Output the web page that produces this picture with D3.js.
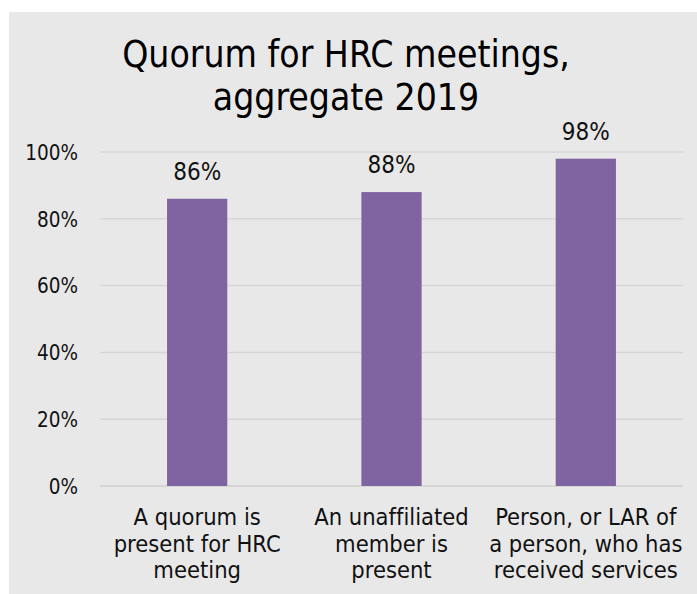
<!DOCTYPE html>
<html>
<head>
<meta charset="utf-8">
<script src="https://cdn.jsdelivr.net/npm/d3@7"></script>
<style>
  html, body { margin: 0; padding: 0; background: #ffffff; }
  svg { display: block; }
  text { font-family: "DejaVu Sans Condensed", "DejaVu Sans", sans-serif; fill: #111; font-variant-ligatures: none; }
</style>
</head>
<body>
<svg id="chart" width="697" height="594"></svg>
<script>
// Chart data
const titleLines = ["Quorum for HRC meetings,", "aggregate 2019"];
const categories = [
  ["A quorum is", "present for HRC", "meeting"],
  ["An unaffiliated", "member is", "present"],
  ["Person, or LAR of", "a person, who has", "received services"]
];
const values = [0.86, 0.88, 0.98];
const valueLabels = ["86%", "88%", "98%"];
const yTicks = [0, 0.2, 0.4, 0.6, 0.8, 1.0];
const yTickLabels = ["0%", "20%", "40%", "60%", "80%", "100%"];

const svg = d3.select("#chart");
const W = 697, H = 594;
const plot = { left: 100, right: 683, top: 152, bottom: 486 };

// Panel background
svg.append("rect")
  .attr("x", 9).attr("y", 12)
  .attr("width", W - 9).attr("height", H - 12)
  .attr("fill", "#e8e8e8");

// Title
svg.append("g").selectAll("text")
  .data(titleLines)
  .join("text")
  .attr("x", 346)
  .attr("y", (d, i) => 67 + i * 43)
  .attr("text-anchor", "middle")
  .attr("font-size", 37)
  .style("fill", "#000")
  .text(d => d);

const x = d3.scaleBand()
  .domain(d3.range(categories.length))
  .range([plot.left, plot.right])
  .paddingInner(0.69)
  .paddingOuter(0.345);

const y = d3.scaleLinear()
  .domain([0, 1])
  .range([plot.bottom, plot.top]);

// Gridlines
svg.append("g").selectAll("line")
  .data(yTicks)
  .join("line")
  .attr("x1", plot.left).attr("x2", plot.right)
  .attr("y1", d => y(d)).attr("y2", d => y(d))
  .attr("stroke", "#d6d6d6")
  .attr("stroke-width", d => d === 0 ? 2 : 1.5);

// Y axis tick labels
const yAxis = d3.axisLeft(y)
  .tickValues(yTicks)
  .tickFormat((d, i) => yTickLabels[i])
  .tickSize(0)
  .tickPadding(0);
const yAxisG = svg.append("g")
  .attr("transform", "translate(78,0)")
  .call(yAxis);
yAxisG.select(".domain").remove();
yAxisG.selectAll("text")
  .attr("font-size", 20.5)
  .attr("font-family", "DejaVu Sans Condensed, DejaVu Sans, sans-serif")
  .attr("dy", "0.36em")
  .style("fill", "#111");

// Bars
svg.append("g").selectAll("rect")
  .data(values)
  .join("rect")
  .attr("x", (d, i) => x(i))
  .attr("y", d => y(d))
  .attr("width", x.bandwidth())
  .attr("height", d => y(0) - y(d))
  .attr("fill", "#8064a2");

// Value labels
svg.append("g").selectAll("text")
  .data(values)
  .join("text")
  .attr("x", (d, i) => x(i) + x.bandwidth() / 2)
  .attr("y", d => y(d) - 19)
  .attr("text-anchor", "middle")
  .attr("font-size", 24)
  .text((d, i) => valueLabels[i]);

// Category labels
const catG = svg.append("g").selectAll("text")
  .data(categories)
  .join("text")
  .attr("x", (d, i) => x(i) + x.bandwidth() / 2)
  .attr("y", 525)
  .attr("text-anchor", "middle")
  .attr("font-size", 23.5);
catG.selectAll("tspan")
  .data(d => d)
  .join("tspan")
  .attr("x", function () { return d3.select(this.parentNode).attr("x"); })
  .attr("dy", (d, i) => i === 0 ? 0 : 26.5)
  .text(d => d);
</script>
</body>
</html>
